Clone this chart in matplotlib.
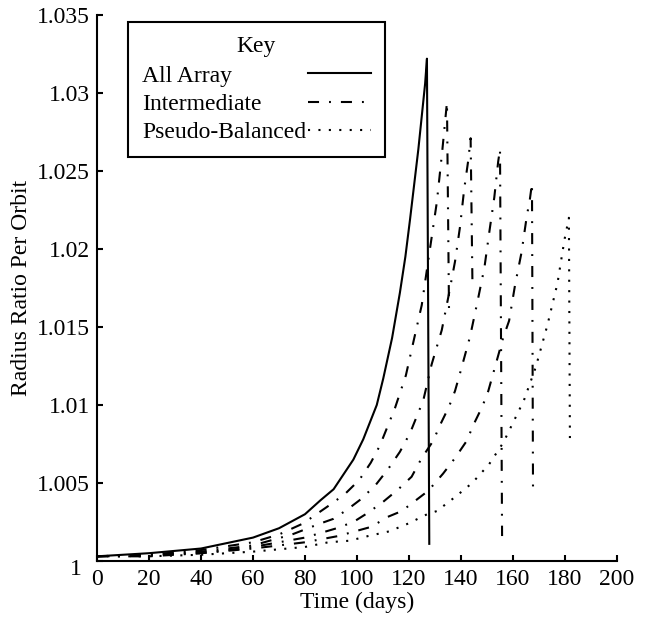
import matplotlib
matplotlib.use("Agg")
import matplotlib.pyplot as plt
from matplotlib.transforms import ScaledTranslation

plt.rcParams['font.family'] = ['Liberation Serif', 'DejaVu Serif']

# Values (time in days, radius ratio per orbit)
t_all = [0, 20, 40, 60, 70, 80, 86, 91, 98.6, 102.4, 107.6, 110.1, 113.5,
         116.5, 118.6, 120.4, 123.6, 126.2, 126.9, 127.8]
r_all = [1.0003, 1.0005, 1.0008, 1.0015, 1.0021, 1.0030, 1.0039, 1.0046,
         1.0065, 1.0078, 1.0100, 1.0117, 1.0143, 1.0172, 1.0195, 1.0219,
         1.0264, 1.0306, 1.0322, 1.0011]

# intermediate configurations (four runs)
t_int1 = [0, 20, 40, 60, 70, 79.2, 89.6, 95.4, 100.9, 105.3, 108.8, 114.6,
          118.8, 121.9, 124.9, 127.7, 130.7, 132.8, 134.6, 135.4]
r_int1 = [1.0003, 1.0004, 1.0007, 1.0012, 1.0017, 1.0024, 1.0036, 1.0043,
          1.0052, 1.0063, 1.0074, 1.0098, 1.0119, 1.0142, 1.0164, 1.0196,
          1.0230, 1.0263, 1.0294, 1.0159]

t_int2 = [0, 20, 40, 60, 75, 85.8, 90.9, 96.3, 101.8, 107.3, 112.0, 116.5,
          120.4, 125.5, 128.7, 132.6, 135.1, 137.7, 139.6, 141.2, 142.8,
          143.7, 144.4]
r_int2 = [1.0003, 1.0004, 1.0006, 1.0010, 1.0017, 1.0024, 1.0027, 1.0033,
          1.0040, 1.0049, 1.0059, 1.0070, 1.0082, 1.0103, 1.0126, 1.0148,
          1.0169, 1.0192, 1.0214, 1.0238, 1.0257, 1.0271, 1.0178]

t_int3 = [0, 20, 40, 60, 80, 92.2, 98.6, 104.3, 110.1, 115.9, 121.0, 124.9,
          129.3, 131.9, 135.4, 137.7, 139.9, 143.5, 146.3, 149.0, 150.9,
          152.8, 154.3, 155.0, 155.8]
r_int3 = [1.0003, 1.0004, 1.0005, 1.0009, 1.0015, 1.0021, 1.0025, 1.0031,
          1.0038, 1.0046, 1.0054, 1.0066, 1.0077, 1.0087, 1.0099, 1.0109,
          1.0122, 1.0144, 1.0166, 1.0188, 1.0211, 1.0233, 1.0256, 1.0264,
          1.0016]

t_int4 = [0, 20, 40, 60, 80, 92.8, 99.2, 105.7, 111.4, 117.2, 122.7, 127.4,
          133.1, 137.7, 142.2, 144.7, 148.2, 150.5, 156.2, 158.5, 160.8,
          163.3, 165.3, 166.5, 167.3, 167.7]
r_int4 = [1.0003, 1.0003, 1.0005, 1.0008, 1.0012, 1.0016, 1.0019, 1.0022,
          1.0028, 1.0032, 1.0039, 1.0045, 1.0056, 1.0066, 1.0077, 1.0087,
          1.0099, 1.0109, 1.0143, 1.0154, 1.0177, 1.0198, 1.0221, 1.0232,
          1.0242, 1.0045]

t_pseudo = [0, 20, 40, 60, 80, 89.0, 97.1, 104.3, 112.4, 119.7, 127.0, 130.7,
            137.7, 144.3, 150.8, 156.3, 160.4, 164.2, 168.7, 173.2, 177.1,
            179.8, 181.5, 181.9]
r_pseudo = [1.0003, 1.0003, 1.0004, 1.0006, 1.0009, 1.0012, 1.0013, 1.0016,
            1.0019, 1.0024, 1.0030, 1.0032, 1.0041, 1.0050, 1.0062, 1.0076,
            1.0090, 1.0103, 1.0124, 1.0151, 1.0178, 1.0206, 1.0220, 1.0075]

x_ticks = [0, 20, 40, 60, 80, 100, 120, 140, 160, 180, 200]
y_ticks = [1, 1.005, 1.01, 1.015, 1.02, 1.025, 1.03, 1.035]
y_labels = ['1', '1.005', '1.01', '1.015', '1.02', '1.025', '1.03', '1.035']

FS = 17

fig = plt.figure(figsize=(6.47, 6.22), dpi=100)
ax = fig.add_axes([97 / 647, 61 / 622, 520 / 647, 546 / 622])

dashdot = (0, (5.3, 4.8, 0.9, 4.8))
dotted = (0, (1, 4))
lw = 1.5

l1, = ax.plot(t_all, r_all, color='black', lw=lw, ls='-')
l2, = ax.plot(t_int1, r_int1, color='black', lw=lw, ls=dashdot)
for t, r in ((t_int2, r_int2), (t_int3, r_int3), (t_int4, r_int4)):
    ax.plot(t, r, color='black', lw=lw, ls=dashdot)
l3, = ax.plot(t_pseudo, r_pseudo, color='black', lw=lw, ls=dotted)

ax.set_xlim(0, 200)
ax.set_ylim(1, 1.035)
ax.set_xticks(x_ticks)
ax.set_yticks(y_ticks)
ax.set_yticklabels(y_labels)
ax.spines['top'].set_visible(False)
ax.spines['right'].set_visible(False)
for s in ('left', 'bottom'):
    ax.spines[s].set_linewidth(1.5)
ax.tick_params(direction='in', length=4, width=1.5, labelsize=FS)
ax.tick_params(axis='x', pad=6)
ax.tick_params(axis='y', pad=5)
ax.set_xlabel("Time (days)", fontsize=FS, labelpad=1)
ax.set_ylabel("Radius Ratio Per Orbit", fontsize=FS, labelpad=4)

# the "1" label sits a little lower and further left in the original
lab0 = ax.get_yticklabels()[0]
lab0.set_transform(lab0.get_transform()
                   + ScaledTranslation(-8 / 100, -6 / 100, fig.dpi_scale_trans))

leg = ax.legend([l1, l2, l3], ["All Array", "Intermediate", "Pseudo-Balanced"],
                title="Key", fontsize=FS, title_fontsize=FS, markerfirst=False,
                loc='upper left', bbox_to_anchor=(127.7 / 647, 1 - 21.7 / 622),
                bbox_transform=fig.transFigure, fancybox=False, framealpha=1,
                edgecolor='black', handlelength=2.65, handletextpad=0.1,
                labelspacing=0.28, borderpad=0.6, borderaxespad=0)
leg.get_frame().set_linewidth(1.5)
leg._legend_box.sep = 6

# left-align the labels, keep the line samples on the right
renderer = fig.canvas.get_renderer()
for col in leg._legend_handle_box.get_children():
    items = col.get_children()
    w = max(it.get_bbox(renderer).width for it in items)
    for it in items:
        it.mode = 'expand'
        it.width = w

fig.savefig("out.png", dpi=100)
